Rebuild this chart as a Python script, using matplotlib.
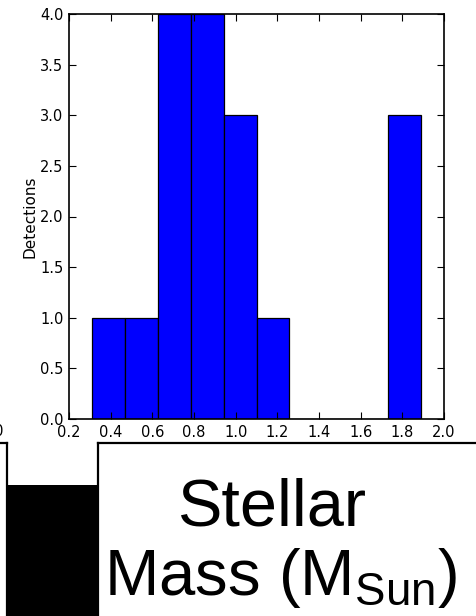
import matplotlib
matplotlib.use('Agg')
from matplotlib import pyplot as plt
from matplotlib.lines import Line2D
from matplotlib.patches import Rectangle

# histogram of stellar masses (bin edges in M_sun, counts per bin)
mass_edges = [0.31, 0.468, 0.626, 0.784, 0.942, 1.100, 1.258, 1.416, 1.574, 1.732, 1.890]
detections = [1, 1, 4, 4, 3, 1, 0, 0, 0, 3]

x_ticks = [0.2, 0.4, 0.6, 0.8, 1.0, 1.2, 1.4, 1.6, 1.8, 2.0]
y_ticks = [0.0, 0.5, 1.0, 1.5, 2.0, 2.5, 3.0, 3.5, 4.0]

W, H = 477, 616
fig = plt.figure(figsize=(W / 100, H / 100), dpi=100)

# axes placed by pixel edges of the reference
left, right, top, bottom = 69, 444, 14, 419
ax = fig.add_axes([left / W, 1 - bottom / H, (right - left) / W, (bottom - top) / H])

ax.hist(mass_edges[:-1], bins=mass_edges, weights=detections,
        color='#0000ff', edgecolor='black', linewidth=0.9)

ax.set_xlim(0.2, 2.0)
ax.set_ylim(0, 4.0)
ax.set_xticks(x_ticks)
ax.set_yticks(y_ticks)
ax.set_xticklabels(['{:.1f}'.format(v) for v in x_ticks])
ax.set_yticklabels(['{:.1f}'.format(v) for v in y_ticks])
ax.tick_params(direction='in', top=True, right=True, length=5, width=0.8,
               labelsize=10.5, pad=4, colors='black')
ax.tick_params(axis='x', pad=4)
for sp in ax.spines.values():
    sp.set_linewidth(1.2)
ax.set_ylabel('Detections', fontsize=11)
ax.yaxis.set_label_coords(-0.084, 0.5)

# clipped tick label of a neighbouring panel at the far left
fig.text(4 / W, 1 - 432 / H, '2.0', ha='right', va='center', fontsize=10.5)

# slide decorations below the plot
def px(x, y):
    return x / W, 1 - y / H

lw = 1.6
fig.add_artist(Line2D([0, 7.5 / W], [px(0, 443)[1]] * 2, color='black', lw=lw, transform=fig.transFigure))
fig.add_artist(Line2D([98 / W, 1], [px(0, 443)[1]] * 2, color='black', lw=lw, transform=fig.transFigure))
fig.add_artist(Line2D([7.5 / W] * 2, [px(0, 443)[1], 0], color='black', lw=lw, transform=fig.transFigure))
fig.add_artist(Line2D([98 / W] * 2, [px(0, 443)[1], 0], color='black', lw=lw, transform=fig.transFigure))
fig.add_artist(Rectangle(px(7.5, 616), 90.5 / W, (616 - 485) / H, facecolor='black',
                         edgecolor='none', transform=fig.transFigure))

plt.rcParams['mathtext.fontset'] = 'custom'
plt.rcParams['mathtext.rm'] = 'Liberation Sans'
fig.text(272 / W, 1 - 526 / H, 'Stellar', ha='center', va='baseline',
         fontsize=48, family='Liberation Sans')
fig.text(281 / W, 1 - 595 / H, r'Mass (M$\mathregular{_{Sun}}$)', ha='center', va='baseline',
         fontsize=47, family='Liberation Sans')

fig.savefig('out.png', dpi=100)
